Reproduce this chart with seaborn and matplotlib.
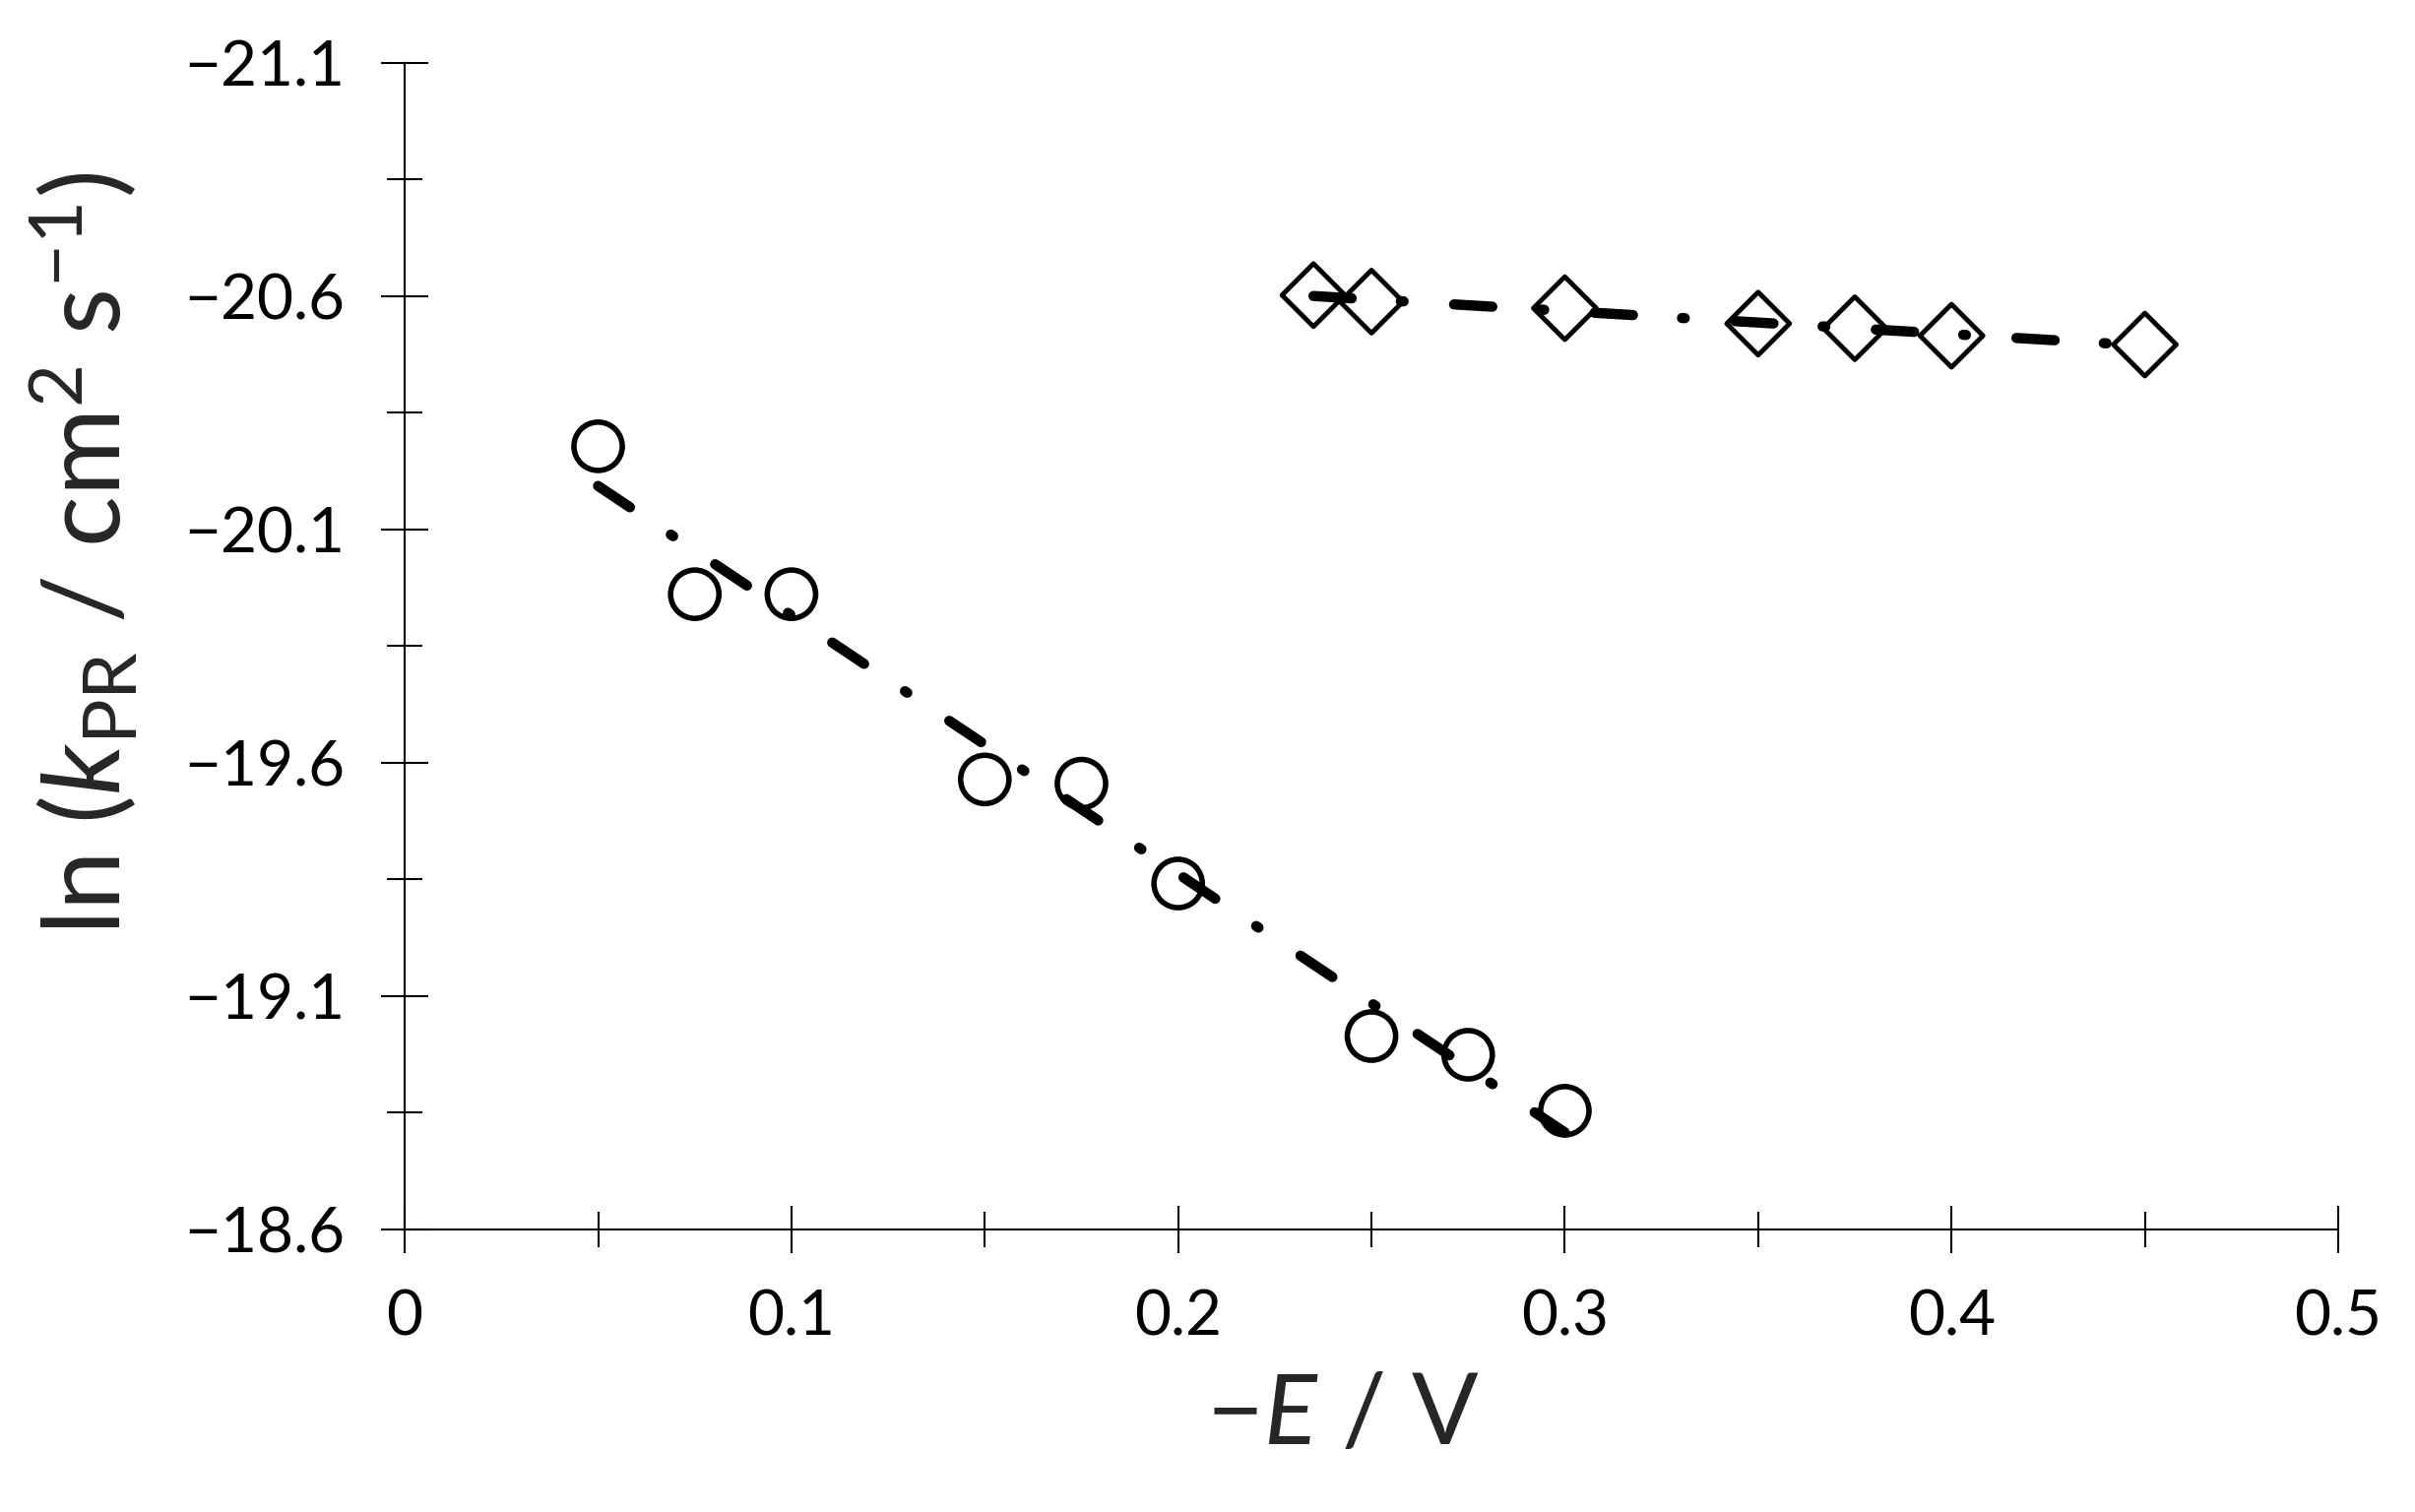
import numpy as np
import pandas as pd
import matplotlib
matplotlib.use("Agg")
import matplotlib.pyplot as plt
import seaborn as sns

# values
e_circle = [0.05, 0.075, 0.1, 0.15, 0.175, 0.2, 0.25, 0.275, 0.3]
lnk_circle = [-20.278, -19.961, -19.961, -19.564, -19.555, -19.341, -19.014, -18.974, -18.854]

e_diamond = [0.235, 0.25, 0.3, 0.35, 0.375, 0.4, 0.45]
lnk_diamond = [-20.602, -20.588, -20.574, -20.541, -20.531, -20.515, -20.496]

x_ticks = [0, 0.1, 0.2, 0.3, 0.4, 0.5]
x_tick_labels = ["0", "0.1", "0.2", "0.3", "0.4", "0.5"]
y_ticks = [-21.1, -20.6, -20.1, -19.6, -19.1, -18.6]
y_tick_labels = ["\u221221.1", "\u221220.6", "\u221220.1", "\u221219.6", "\u221219.1", "\u221218.6"]

circles = pd.DataFrame({"E": e_circle, "lnk": lnk_circle})
diamonds = pd.DataFrame({"E": e_diamond, "lnk": lnk_diamond})

sns.set_style("white")
plt.rcParams["font.family"] = ["Lato", "DejaVu Sans"]
plt.rcParams["mathtext.fontset"] = "custom"
plt.rcParams["mathtext.rm"] = "Lato"
plt.rcParams["mathtext.it"] = "Lato:italic"
plt.rcParams["mathtext.bf"] = "Lato:bold"
plt.rcParams["lines.scale_dashes"] = False

fig = plt.figure(figsize=(24.53, 15.36), dpi=100)
ax = fig.add_axes([0.1676, 0.187, 0.8006, 0.7715])

line_kws = dict(color="black", lw=7.5, dashes=(28, 36, 2, 37),
                dash_capstyle="round", solid_capstyle="round", zorder=3)

# trend lines (least squares fit, drawn over data range)
sns.regplot(data=circles, x="E", y="lnk", scatter=False, ci=None,
            truncate=True, line_kws=line_kws, ax=ax)
sns.regplot(data=diamonds, x="E", y="lnk", scatter=False, ci=None,
            truncate=True, line_kws=line_kws, ax=ax)

sns.scatterplot(data=circles, x="E", y="lnk", marker="o", s=1250,
                facecolor="none", edgecolor="black", linewidth=4.0,
                zorder=2, ax=ax)
sns.scatterplot(data=diamonds, x="E", y="lnk", marker="D", s=1060,
                facecolor="none", edgecolor="black", linewidth=3.5,
                zorder=2, ax=ax)

ax.set_xlim(0, 0.5)
ax.set_ylim(-18.6, -21.1)

ax.set_xticks(x_ticks)
ax.set_xticklabels(x_tick_labels)
ax.set_xticks(np.array(x_ticks[:-1]) + 0.05, minor=True)
ax.set_yticks(y_ticks)
ax.set_yticklabels(y_tick_labels)
ax.set_yticks(np.array(y_ticks[:-1]) + 0.25, minor=True)

ax.tick_params(which="major", direction="inout", length=34, width=1.5,
               color="black", labelsize=46, pad=27, labelcolor="black")
ax.tick_params(which="minor", direction="inout", length=26, width=1.5,
               color="black")
ax.tick_params(left=True, bottom=True, which="both")

for side in ["top", "right"]:
    ax.spines[side].set_visible(False)
for side in ["left", "bottom"]:
    ax.spines[side].set_color("black")
    ax.spines[side].set_linewidth(1.5)
    ax.spines[side].set_zorder(1)

ax.set_xlabel(r"$-E$ / V", fontsize=72)
ax.set_ylabel(r"ln ($k_{\mathrm{PR}}$ / cm$^{2}$ s$^{-1}$)", fontsize=78)
ax.xaxis.set_label_coords(0.485, -0.122)
ax.yaxis.set_label_coords(-0.137, 0.579)

fig.savefig("out.png", dpi=100)
